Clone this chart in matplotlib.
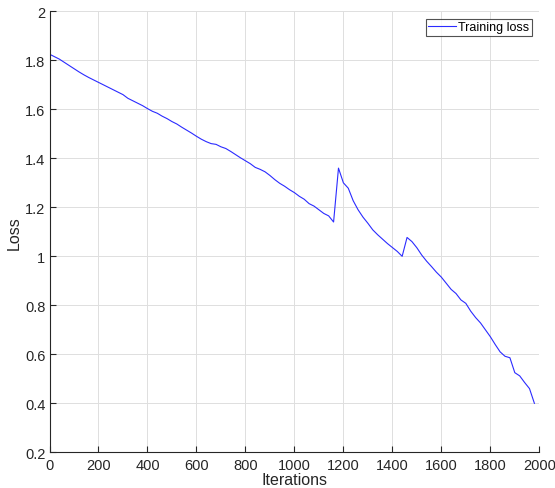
import matplotlib
matplotlib.use("Agg")
import matplotlib.pyplot as plt
from matplotlib.ticker import FuncFormatter

iterations = list(range(0, 2000, 20))
loss = [
    1.825, 1.815, 1.805, 1.792, 1.779, 1.766, 1.753, 1.741, 1.730, 1.720,
    1.710, 1.700, 1.690, 1.680, 1.670, 1.660, 1.645, 1.635, 1.625, 1.615,
    1.603, 1.592, 1.584, 1.572, 1.562, 1.550, 1.540, 1.527, 1.515, 1.503,
    1.490, 1.478, 1.468, 1.460, 1.457, 1.447, 1.440, 1.428, 1.415, 1.402,
    1.390, 1.378, 1.363, 1.355, 1.345, 1.330, 1.313, 1.298, 1.286, 1.272,
    1.260, 1.245, 1.233, 1.215, 1.205, 1.190, 1.175, 1.165, 1.140, 1.360,
    1.300, 1.278, 1.227, 1.190, 1.160, 1.135, 1.108, 1.088, 1.070, 1.052,
    1.036, 1.020, 1.000, 1.077, 1.060, 1.035, 1.005, 0.980, 0.958, 0.935,
    0.915, 0.890, 0.865, 0.848, 0.822, 0.808, 0.776, 0.750, 0.728, 0.700,
    0.672, 0.640, 0.610, 0.592, 0.586, 0.525, 0.512, 0.485, 0.460, 0.400,
]
xticks = list(range(0, 2001, 200))
yticks = [0.2, 0.4, 0.6, 0.8, 1.0, 1.2, 1.4, 1.6, 1.8, 2.0]

plt.rcParams['font.family'] = ['Liberation Sans', 'DejaVu Sans']

fig = plt.figure(figsize=(5.55, 4.89), dpi=100)
ax = fig.add_axes([0.0892, 0.073, 0.9717 - 0.0892, 0.9748 - 0.073])

ax.plot(iterations, loss, color='#2b2bff', lw=0.8, label='Training loss')

ax.set_xlim(0, 2000)
ax.set_ylim(0.2, 2.0)
ax.set_xticks(xticks)
ax.set_yticks(yticks)
ax.yaxis.set_major_formatter(FuncFormatter(lambda v, p: '%g' % round(v, 2)))
ax.grid(True, color='#dedede', lw=0.7)
ax.set_axisbelow(True)

for s in ('top', 'right'):
    ax.spines[s].set_visible(False)
for s in ('left', 'bottom'):
    ax.spines[s].set_color('#262626')
    ax.spines[s].set_linewidth(0.8)

ax.tick_params(direction='in', length=4, width=0.8, colors='#262626',
               labelsize=10.5, labelcolor='#262626', top=False, right=False)
ax.tick_params(axis='x', pad=4)
ax.tick_params(axis='y', pad=3)

ax.set_xlabel('Iterations', fontsize=11.5, color='#262626', labelpad=0)
ax.set_ylabel('Loss', fontsize=11.5, color='#262626', labelpad=2)

leg = ax.legend(loc='upper right', fontsize=9, frameon=True, fancybox=False,
                edgecolor='#262626', borderpad=0.2, handlelength=2.2,
                handletextpad=0.2, borderaxespad=0.6)
leg.get_frame().set_linewidth(0.8)

fig.savefig('out.png', dpi=100)
